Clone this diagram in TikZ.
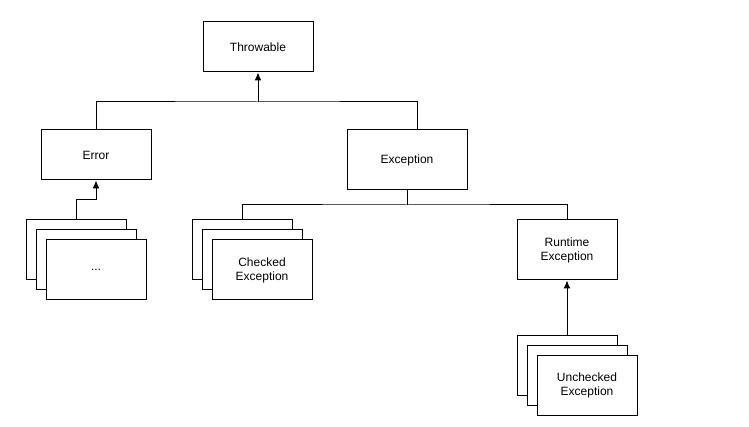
\documentclass[tikz,border=0pt]{standalone}
\usepackage{fontspec}
\setmainfont{Liberation Sans}
\usetikzlibrary{positioning,arrows.meta}
\tikzset{cls/.style={draw,fill=white,line width=1pt,align=center,inner sep=0pt,
  minimum width=100pt,minimum height=60pt,font=\fontsize{12}{14}\selectfont},
  wire/.style={line width=1pt},
  up/.style={wire,-{Latex[length=8pt,width=7pt]}}}
\begin{document}
\begin{tikzpicture}[x=1pt,y=-1pt]
\useasboundingbox (0,0) rectangle (749,427);
% top level
\node[cls,minimum width=110pt,minimum height=50pt] (throw) at (258,47) {Throwable};
\node[cls,minimum width=110pt,minimum height=50pt] (err) at (96,155) {Error};
\node[cls,minimum width=120pt] (exc) at (407,160) {Exception};
\node[cls] (rt) at (567,250) {Runtime\\Exception};
% stacks
\node[cls] (errA) at (76,250) {};
\node[cls] (errB) at (86,260) {};
\node[cls] (errC) at (96,270) {...};
\node[cls] (chkA) at (242,250) {};
\node[cls] (chkB) at (252,260) {};
\node[cls] (chkC) at (262,270) {Checked\\Exception};
\node[cls] (uncA) at (567,365) {};
\node[cls] (uncB) at (577,375) {};
\node[cls] (uncC) at (587,385) {Unchecked\\Exception};
% joints
\coordinate (tj) at (258,102);
\coordinate (ej) at (96,200);
\coordinate (cj) at (407,205);
% connectors
\draw[wire] (err.north) |- (tj) -| ([xshift=10pt]exc.north);
\draw[up] (tj) -- (throw.south);
\draw[up] (errA.north) |- (ej) -- (err.south);
\draw[wire] (exc.south) -- (cj);
\draw[wire] (chkA.north) |- (cj) -| (rt.north);
\draw[up] (uncA.north) -- (rt.south);
\end{tikzpicture}
\end{document}
